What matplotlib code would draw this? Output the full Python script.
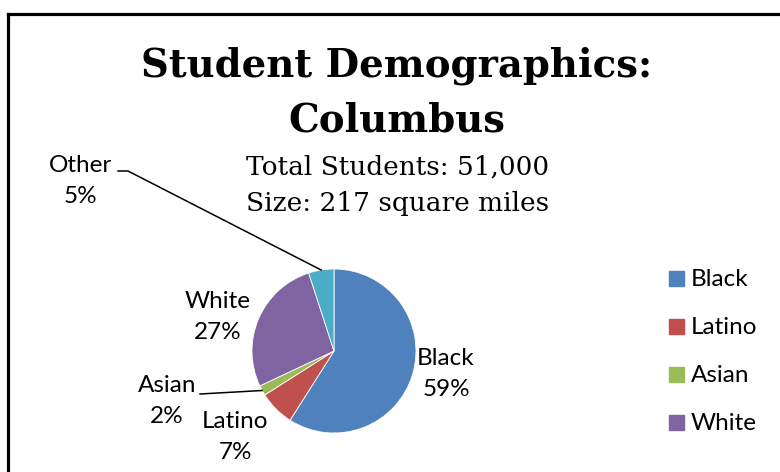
import matplotlib
matplotlib.use('Agg')
import matplotlib.pyplot as plt
from matplotlib.lines import Line2D
from matplotlib.patches import Rectangle

categories = ['Black', 'Latino', 'Asian', 'White', 'Other']
shares = [59, 7, 2, 27, 5]
colors = ['#4F81BD', '#C0504D', '#9BBB59', '#8064A2', '#4BACC6']
legend_items = categories[:4]

title_lines = ['Student Demographics:', 'Columbus']
subtitle_lines = ['Total Students: 51,000', 'Size: 217 square miles']

W, H = 780, 472


def px(x, y):
    # pixel position (top-left origin) -> figure fraction
    return x / W, 1 - y / H


fig = plt.figure(figsize=(7.8, 4.72), dpi=100)
fig.patch.set_facecolor('white')

# pie axes: centre (334, 351), radius 82 px
cx, cy, r = 334, 351, 82
ax = fig.add_axes([(cx - r) / W, (H - cy - r) / H, 2 * r / W, 2 * r / H])
wedges, _ = ax.pie(shares, colors=colors, startangle=90, counterclock=False,
                   radius=1, wedgeprops=dict(linewidth=0.6, edgecolor='white'))
ax.set_xlim(-1, 1)
ax.set_ylim(-1, 1)
ax.set_aspect('equal')
ax.axis('off')

# border (only top and left visible)
lw = 2.3
fig.add_artist(Line2D([8 / W, 1], [1 - 13.5 / H] * 2, color='black', lw=lw))
fig.add_artist(Line2D([8 / W] * 2, [0, 1 - 13.5 / H], color='black', lw=lw))

# title
fig.text(*px(397, 66), title_lines[0], ha='center', va='center',
         fontsize=27.8, fontweight='bold', family='DejaVu Serif')
fig.text(*px(397, 120), title_lines[1], ha='center', va='center',
         fontsize=27.8, fontweight='bold', family='DejaVu Serif')
fig.text(*px(398, 167), subtitle_lines[0], ha='center', va='center',
         fontsize=19, family='DejaVu Serif')
fig.text(*px(398, 204), subtitle_lines[1], ha='center', va='center',
         fontsize=19, family='DejaVu Serif')

lab_font = dict(family=['Lato', 'DejaVu Sans'], fontsize=17.5)

# label text positions (pixels)
label_pos = {
    'Black': (446, 374),
    'Latino': (235, 437),
    'Asian': (167, 401),
    'White': (218, 317),
    'Other': (80, 181),
}
for name, val in zip(categories, shares):
    x, y = label_pos[name]
    fig.text(*px(x, y), f'{name}\n{val}%', ha='center', va='center',
             linespacing=1.55, **lab_font)


def edge_point(w):
    import numpy as np
    ang = np.deg2rad((w.theta1 + w.theta2) / 2)
    p = ax.transData.transform((np.cos(ang), np.sin(ang)))
    return fig.transFigure.inverted().transform(p)


# leader lines
op = edge_point(wedges[4])
xs = [118 / W, 128 / W, op[0]]
ys = [1 - 171 / H, 1 - 171 / H, op[1]]
fig.add_artist(Line2D(xs, ys, color='black', lw=1.1))

ap = edge_point(wedges[2])
fig.add_artist(Line2D([200 / W, ap[0]], [1 - 394 / H, ap[1]], color='black', lw=1.1))

# legend
for i, name in enumerate(legend_items):
    y = 278 + 48 * i
    fx, fy = px(669, y + 7.5)
    fig.add_artist(Rectangle((fx, fy), 15 / W, 15 / H, color=colors[i],
                             transform=fig.transFigure))
    fig.text(*px(691, y + 2), name, ha='left', va='center', **lab_font)

fig.savefig('out.png', dpi=100)
